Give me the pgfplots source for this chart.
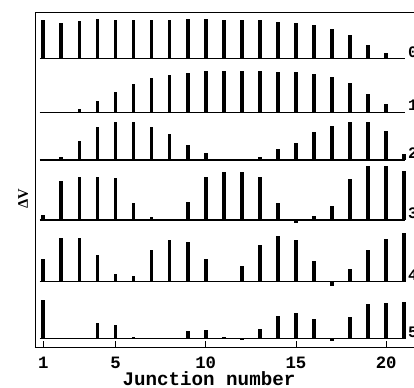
\documentclass[border=0pt]{standalone}
\usepackage{fontspec}
\setmainfont{Liberation Serif}
\setmonofont{Liberation Mono}
\usepackage{pgfplots}
\usepackage{pgfplotstable}
\pgfplotsset{compat=1.18}
\pgfplotstableread{
x h
1 39
2 35.7
3 38
4 39.7
5 39
6 39
7 39
8 39
9 39.7
10 39.7
11 39
12 38.3
13 38.3
14 36.7
15 35.7
16 34
17 30
18 24
19 13.3
20 5.7
}\rowA
\pgfplotstableread{
x h
3 3
4 11.7
5 20.7
6 28.3
7 34
8 37.7
9 39.7
10 41.3
11 41.7
12 41.7
13 41.7
14 40.7
15 40
16 38.3
17 35
18 29
19 18.3
20 8
}\rowB
\pgfplotstableread{
x h
2 3
3 19
4 32.7
5 38.3
6 37.7
7 32.7
8 26
9 15
10 7.3
13 3
14 10.7
15 16.7
16 28.3
17 34
18 38.3
19 37.7
20 29
21 6
}\rowC
\pgfplotstableread{
x h
1 5
2 39
3 42.7
4 42.7
5 41.7
6 17.3
7 3
9 18.3
10 42.7
11 48.3
12 47.7
13 42.7
14 16.7
15 -3
16 3.5
17 14
18 40.7
19 54
20 54
21 49.3
}\rowD
\pgfplotstableread{
x h
1 22.7
2 43.3
3 43.3
4 26.7
5 7.3
6 6
7 31.7
8 41.7
9 39.7
10 22.3
11 1
12 15.7
13 36.7
14 45.7
15 41.7
16 20.7
17 -4.3
18 12.3
19 31.7
20 42.3
21 48.3
}\rowE
\pgfplotstableread{
x h
1 38.3
4 16
5 14
6 2
9 7.3
10 9
11 1.5
12 -1.5
13 9.3
14 22.7
15 25.7
16 20
17 -2
18 21.7
19 35
20 36
21 36.7
}\rowF
\begin{document}
\begin{tikzpicture}
\begin{axis}[
  name=ax,
  scale only axis,
  width=284.3pt, height=251.5pt,
  xmin=0.54, xmax=21.54, ymin=0, ymax=335.3,
  axis x line*=bottom, axis y line*=left,
  axis line style={-, line width=0.7pt},
  xtick={1,5,10,15,20}, ytick=\empty,
  xtick align=inside, major tick length=5pt,
  tick style={line width=0.6pt, black},
  /pgf/number format/assume math mode=true,
  xticklabel style={font=\fontsize{13}{15}\selectfont\ttfamily\bfseries, anchor=base, yshift=-15.8pt, inner sep=0pt},
  xlabel={Junction number},
  xlabel style={font=\fontsize{14.4}{16}\selectfont\ttfamily\bfseries, at={(axis description cs:0.459,-0.1135)}, anchor=base, inner sep=0pt},
  ylabel={\bfseries ΔV},
  ylabel style={font=\fontsize{11}{13}\selectfont, at={(axis description cs:-0.0314,0.442)}, anchor=center},
  clip=false,
]
\draw[line width=0.7pt] (rel axis cs:0,1) -- (rel axis cs:1,1);
% baselines
\addplot[line width=1pt, black] coordinates {(0.8,288.6) (21.05,288.6)};
\addplot[line width=1pt, black] coordinates {(0.8,235) (21.05,235)};
\addplot[line width=1pt, black] coordinates {(0.8,187.3) (21.05,187.3)};
\addplot[line width=1pt, black] coordinates {(0.8,127.3) (21.05,127.3)};
\addplot[line width=1pt, black] coordinates {(0.8,65.6) (21.05,65.6)};
\addplot[line width=1pt, black] coordinates {(0.8,8.6) (21.05,8.6)};
% bars
\addplot[quiver={u=0,v=\thisrow{h}}, line width=2.8pt, black] table[x=x, y expr=288.6] {\rowA};
\addplot[quiver={u=0,v=\thisrow{h}}, line width=2.8pt, black] table[x=x, y expr=235] {\rowB};
\addplot[quiver={u=0,v=\thisrow{h}}, line width=2.8pt, black] table[x=x, y expr=187.3] {\rowC};
\addplot[quiver={u=0,v=\thisrow{h}}, line width=2.8pt, black] table[x=x, y expr=127.3] {\rowD};
\addplot[quiver={u=0,v=\thisrow{h}}, line width=2.8pt, black] table[x=x, y expr=65.6] {\rowE};
\addplot[quiver={u=0,v=\thisrow{h}}, line width=2.8pt, black] table[x=x, y expr=8.6] {\rowF};
% row labels
\foreach \yy/\lab in {288.6/0, 235/1, 187.3/2, 127.3/3, 65.6/4, 8.6/5}{
  \edef\temp{\noexpand\node[anchor=base west, inner sep=0pt, font=\noexpand\fontsize{12}{14}\noexpand\selectfont\noexpand\ttfamily\noexpand\bfseries] at (axis cs:21.2,\yy+1.5) {\lab};}
  \temp
}
\end{axis}
\pgfresetboundingbox
\path[use as bounding box] ([xshift=-26.25pt,yshift=-30.5pt]ax.south west) rectangle ([yshift=9pt]ax.north east);
\end{tikzpicture}
\end{document}
